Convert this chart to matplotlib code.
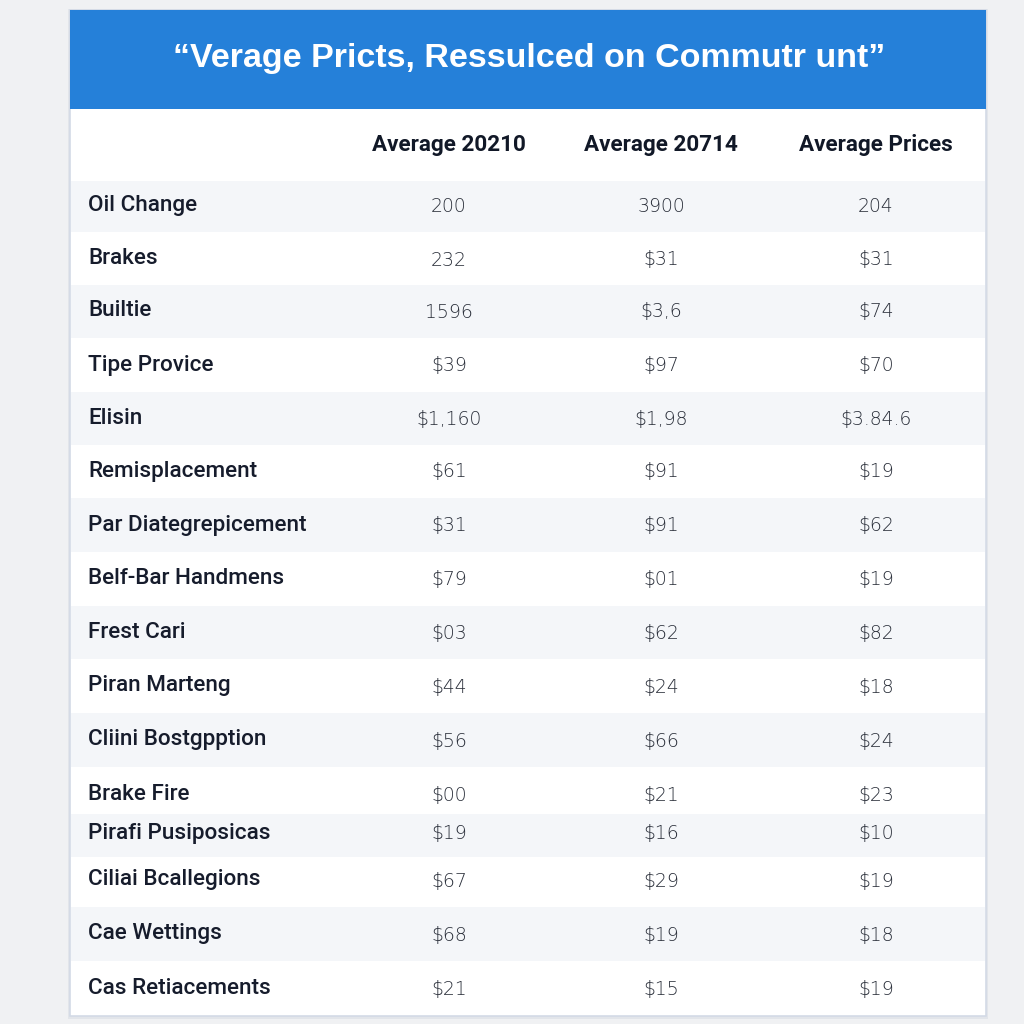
import matplotlib
matplotlib.use("Agg")
import matplotlib.pyplot as plt
from matplotlib.patches import Rectangle

title = "\u201cVerage Pricts, Ressulced on Commutr unt\u201d"
columns = ["Average 20210", "Average 20714", "Average Prices"]
services = ["Oil Change", "Brakes", "Builtie", "Tipe Provice", "Elisin",
            "Remisplacement", "Par Diategrepicement", "Belf-Bar Handmens",
            "Frest Cari", "Piran Marteng", "Cliini Bostgpption", "Brake Fire",
            "Pirafi Pusiposicas", "Ciliai Bcallegions", "Cae Wettings",
            "Cas Retiacements"]
col_2021 = ["200", "232", "1596", "$39", "$1,160", "$61", "$31", "$79",
            "$03", "$44", "$56", "$00", "$19", "$67", "$68", "$21"]
col_2074 = ["3900", "$31", "$3,6", "$97", "$1,98", "$91", "$91", "$01",
            "$62", "$24", "$66", "$21", "$16", "$29", "$19", "$15"]
col_avg = ["204", "$31", "$74", "$70", "$3.84.6", "$19", "$62", "$19",
           "$82", "$18", "$24", "$23", "$10", "$19", "$18", "$19"]

# layout (pixels)
row_y = [205, 259, 311, 365, 418, 471, 525, 579, 632, 686, 740, 794, 833, 880, 934, 988]
col_x = [449, 661, 876]
card_l, card_r, card_t, card_b = 70, 986, 10, 1016
head_b = 109

fig = plt.figure(figsize=(10.24, 10.24), dpi=100)
fig.patch.set_facecolor("#f0f1f3")
ax = fig.add_axes([0, 0, 1, 1])
ax.set_xlim(0, 1024)
ax.set_ylim(1024, 0)
ax.axis("off")

# card shadow + card
ax.add_patch(Rectangle((card_l - 2, card_t - 1), card_r - card_l + 4, card_b - card_t + 4,
                       facecolor="#e2e5ea", edgecolor="none", zorder=0.5))
ax.add_patch(Rectangle((card_l, card_t), card_r - card_l, card_b - card_t,
                       facecolor="white", edgecolor="#d3dae6", lw=1.2, zorder=1))
ax.add_patch(Rectangle((card_l, card_t), card_r - card_l, head_b - card_t,
                       facecolor="#2580d9", edgecolor="none", zorder=2))
ax.text((card_l + card_r) / 2 + 1, 58, title, color="white", fontsize=24.5,
        fontweight="bold", ha="center", va="center", family="Liberation Sans", zorder=3)

# stripes
bounds = [181] + [(row_y[i] + row_y[i + 1]) / 2 for i in range(len(row_y) - 1)] + [card_b - 1]
for i in range(len(row_y)):
    if i % 2 == 0:
        ax.add_patch(Rectangle((card_l + 1, bounds[i]), card_r - card_l - 2,
                               bounds[i + 1] - bounds[i], facecolor="#f4f6f9",
                               edgecolor="none", zorder=1.5))

# header
for x, c in zip(col_x, columns):
    ax.text(x, 145, c, fontsize=16.2, fontweight="bold", color="#111827",
            ha="center", va="center", family="Roboto", zorder=3)

for i, y in enumerate(row_y):
    ax.text(88, y, services[i], fontsize=16.2, color="#161c2c", ha="left",
            va="center", family="Roboto", fontweight="medium", zorder=3)
    for x, vals in zip(col_x, [col_2021, col_2074, col_avg]):
        ax.text(x, y + 1, vals[i], fontsize=13.5, color="#2a2f3a", ha="center",
                va="center", family="DejaVu Sans", fontweight="light", zorder=3)

fig.savefig("out.png", dpi=100, facecolor=fig.get_facecolor())
